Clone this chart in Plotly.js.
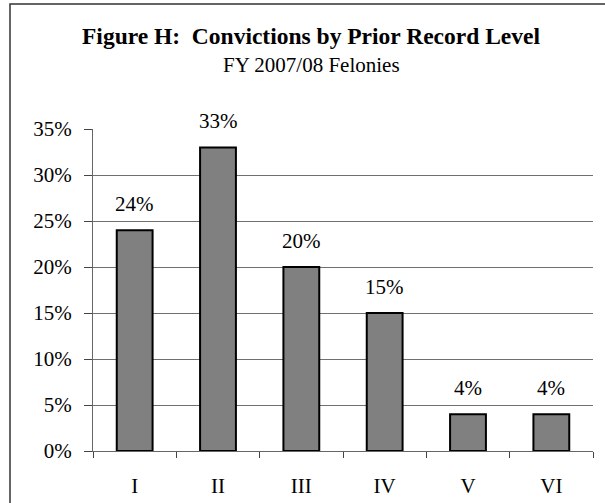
<!DOCTYPE html>
<html>
<head>
<meta charset="utf-8">
<script src="https://cdn.plot.ly/plotly-3.0.1.min.js"></script>
<style>html,body{margin:0;padding:0;background:#fff;}</style>
</head>
<body>
<div id="chart" style="width:605px;height:503px;"></div>
<script>
var categories = ["I", "II", "III", "IV", "V", "VI"];
var percentValues = [24, 33, 20, 15, 4, 4];
var valueLabels = ["24%", "33%", "20%", "15%", "4%", "4%"];
var yTickValues = [0, 5, 10, 15, 20, 25, 30, 35];
var yTickLabels = ["0%", "5%", "10%", "15%", "20%", "25%", "30%", "35%"];
var titleText = "Figure H:\u00a0 Convictions by Prior Record Level";
var subtitleText = "FY 2007/08 Felonies";

var FONT = "Liberation Serif, Times New Roman, serif";

var trace = {
  type: "bar",
  x: categories,
  y: percentValues,
  width: 0.43,
  marker: { color: "#808080", line: { color: "#000000", width: 2 } },
  hoverinfo: "skip"
};

var annotations = categories.map(function (c, i) {
  return {
    x: c, y: percentValues[i], xref: "x", yref: "y",
    text: valueLabels[i], showarrow: false,
    yanchor: "bottom", yshift: 12,
    font: { family: FONT, size: 21, color: "#000" }
  };
});
annotations.push({
  xref: "paper", yref: "paper", x: 0.436, y: 1.29,
  xanchor: "center", yanchor: "middle", showarrow: false,
  text: "<b>" + titleText + "</b>",
  font: { family: FONT, size: 23.5, color: "#000" }
});
annotations.push({
  xref: "paper", yref: "paper", x: 0.436, y: 1.2,
  xanchor: "center", yanchor: "middle", showarrow: false,
  text: subtitleText,
  font: { family: FONT, size: 21, color: "#000" }
});

var layout = {
  width: 605, height: 503,
  margin: { l: 93, r: 12, t: 129, b: 52 },
  paper_bgcolor: "#ffffff", plot_bgcolor: "#ffffff",
  showlegend: false,
  font: { family: FONT, size: 21, color: "#000" },
  xaxis: {
    type: "category",
    tickson: "boundaries",
    ticks: "outside", ticklen: 6, tickwidth: 1, tickcolor: "#444",
    showline: true, linecolor: "#666", linewidth: 1,
    showgrid: false, zeroline: false,
    ticklabelstandoff: 16,
    tickfont: { family: FONT, size: 21, color: "#000" },
    fixedrange: true
  },
  yaxis: {
    range: [0, 35],
    tickvals: yTickValues, ticktext: yTickLabels,
    ticks: "outside", ticklen: 8, tickwidth: 1, tickcolor: "#444",
    showline: true, linecolor: "#666", linewidth: 1,
    showgrid: true, gridcolor: "#707070", gridwidth: 1,
    zeroline: false,
    ticklabelstandoff: 8,
    tickfont: { family: FONT, size: 21, color: "#000" },
    fixedrange: true
  },
  shapes: [{
    type: "rect", xref: "paper", yref: "paper",
    x0: -0.166, x1: 1.2, y0: -0.4, y1: 1.388,
    line: { color: "#333", width: 1.5 }, fillcolor: "rgba(0,0,0,0)",
    layer: "below"
  }],
  annotations: annotations
};

Plotly.newPlot("chart", [trace], layout, { displayModeBar: false, staticPlot: true });
</script>
</body>
</html>
